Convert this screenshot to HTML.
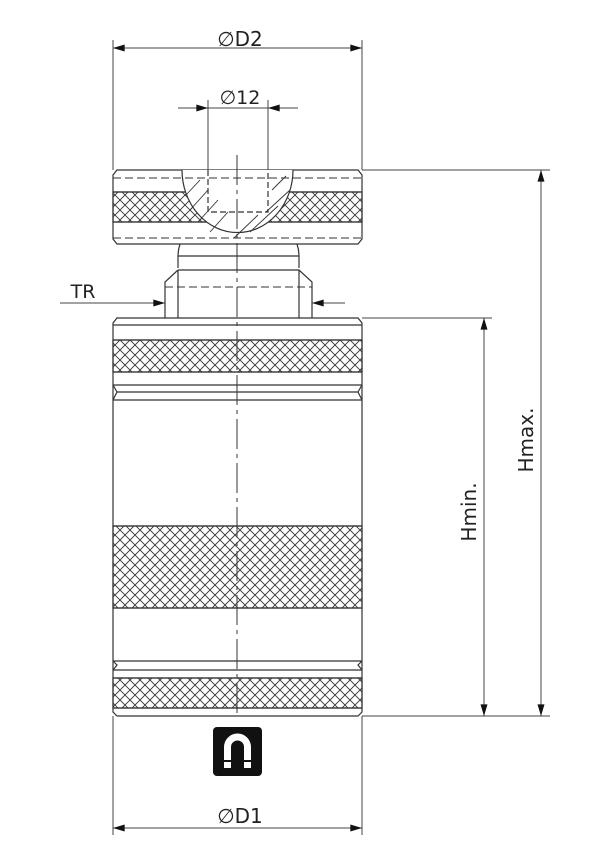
<!DOCTYPE html>
<html><head><meta charset="utf-8"><style>
html,body{margin:0;padding:0;background:#fff;}
svg{display:block;}
text{font-family:"DejaVu Sans","Liberation Sans",sans-serif;fill:#222;}
</style></head><body>
<svg width="605" height="867" viewBox="0 0 605 867" xmlns="http://www.w3.org/2000/svg">
<defs>
<pattern id="k" width="10" height="10" patternUnits="userSpaceOnUse">
<path d="M0,0 L10,10 M10,0 L0,10" stroke="#333" stroke-width="0.9" fill="none"/>
</pattern>
<marker id="a" viewBox="0 0 10 6" refX="10" refY="3" markerWidth="14" markerHeight="7" orient="auto-start-reverse" markerUnits="userSpaceOnUse"><path d="M0,0 L10,3 L0,6 z" fill="#111"/></marker>
</defs>
<g stroke="#333" fill="none" stroke-width="1.2">
<path d="M117,170 L358,170 L362,175 L362,239 L358,244 L117,244 L113,239 L113,175 Z" fill="#fff"/>
<rect x="113" y="192" width="249" height="30" fill="url(#k)"/>
<line x1="113" y1="192" x2="362" y2="192"/><line x1="113" y1="222" x2="362" y2="222"/>
<path d="M182,170 A55,62 0 0 0 293,170" fill="#fff"/>
<path d="M208,170 L208,212 L268,212 L268,170" stroke-dasharray="6,3"/>
<line x1="113" y1="178" x2="362" y2="178" stroke-dasharray="8,4" stroke-width="1"/>
<line x1="113" y1="238" x2="362" y2="238" stroke-dasharray="8,4" stroke-width="1"/>
<g stroke-width="0.9"><path d="M186,195 L200,180 M190,210 L208,190 M198,222 L218,200 M210,232 L228,212 M272,190 L286,176 M266,212 L290,190 M250,232 L278,206 M234,238 L258,215"/></g>
<path d="M180,244 Q178,250 178,256 L178,268 M297,244 Q299,250 299,256 L299,268"/>
<line x1="178" y1="256" x2="299" y2="256"/>
<path d="M178,270 L299,270 L312,282 L312,318 M178,270 L165,282 L165,318"/>
<line x1="178" y1="270" x2="178" y2="318"/><line x1="299" y1="270" x2="299" y2="318"/>
<line x1="165" y1="287" x2="312" y2="287" stroke-dasharray="8,4" stroke-width="1"/>
<path d="M117,318 L358,318 L362,323 L362,712 L358,716 L117,716 L113,712 L113,323 Z" fill="#fff"/>
<line x1="113" y1="325" x2="362" y2="325"/>
<rect x="113" y="340" width="249" height="32" fill="url(#k)"/>
<line x1="113" y1="340" x2="362" y2="340"/><line x1="113" y1="372" x2="362" y2="372"/>
<path d="M113,385 L362,385 M113,385 L117,392 L113,400 M362,385 L358,392 L362,400 M117,392 L358,392 M113,400 L362,400"/>
<rect x="113" y="526" width="249" height="82" fill="url(#k)"/>
<line x1="113" y1="526" x2="362" y2="526"/><line x1="113" y1="608" x2="362" y2="608"/>
<path d="M113,661 L362,661 M113,661 L117,665 L113,670 M362,661 L358,665 L362,670 M113,670 L362,670"/>
<rect x="113" y="678" width="249" height="30" fill="url(#k)"/>
<line x1="113" y1="678" x2="362" y2="678"/><line x1="113" y1="708" x2="362" y2="708"/>
<line x1="237" y1="155" x2="237" y2="716" stroke-dasharray="30,5,4,5" stroke-width="1"/>
</g>
<g stroke="#444" stroke-width="1" fill="none">
<line x1="113" y1="40" x2="113" y2="170"/><line x1="362" y1="40" x2="362" y2="170"/>
<line x1="113" y1="48" x2="362" y2="48" marker-start="url(#a)" marker-end="url(#a)"/>
<line x1="208" y1="100" x2="208" y2="170"/><line x1="268" y1="100" x2="268" y2="170"/>
<line x1="178" y1="108" x2="208" y2="108" marker-end="url(#a)"/><line x1="298" y1="108" x2="268" y2="108" marker-end="url(#a)"/>
<line x1="208" y1="108" x2="268" y2="108"/>
<line x1="60" y1="303" x2="165" y2="303" marker-end="url(#a)"/>
<line x1="345" y1="303" x2="312" y2="303" marker-end="url(#a)"/>
<line x1="362" y1="170" x2="550" y2="170"/>
<line x1="362" y1="318" x2="492" y2="318"/>
<line x1="362" y1="716" x2="550" y2="716"/>
<line x1="484" y1="318" x2="484" y2="716" marker-start="url(#a)" marker-end="url(#a)"/>
<line x1="541" y1="170" x2="541" y2="716" marker-start="url(#a)" marker-end="url(#a)"/>
<line x1="113" y1="716" x2="113" y2="835"/><line x1="362" y1="716" x2="362" y2="835"/>
<line x1="113" y1="828" x2="362" y2="828" marker-start="url(#a)" marker-end="url(#a)"/>
</g>
<rect x="213" y="727" width="49" height="49" rx="4" fill="#111"/>
<path d="M224,768 L224,747 A13.5,13.5 0 0 1 251,747 L251,768 L244,768 L244,747 A6.5,6.5 0 0 0 231,747 L231,768 Z" fill="#fff"/>
<rect x="224" y="760" width="7" height="2" fill="#111"/><rect x="244" y="760" width="7" height="2" fill="#111"/>
<text x="240" y="46" font-size="20" text-anchor="middle">∅D2</text>
<text x="240" y="104" font-size="19" text-anchor="middle">∅12</text>
<text x="83" y="298" font-size="19" text-anchor="middle">TR</text>
<text x="240" y="823" font-size="20" text-anchor="middle">∅D1</text>
<text transform="translate(476,512) rotate(-90)" font-size="20" text-anchor="middle">Hmin.</text>
<text transform="translate(533,440) rotate(-90)" font-size="20" text-anchor="middle">Hmax.</text>
</svg>
</body></html>
